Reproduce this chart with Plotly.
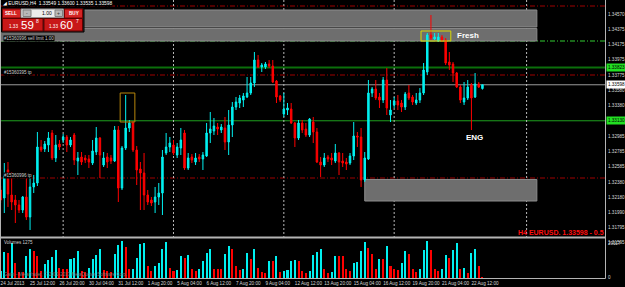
import plotly.graph_objects as go

# ---------------- data (EURUSD H4) ----------------
bars = list(range(-1, 131))
opens = [1.32230, 1.32126, 1.32490, 1.32165, 1.32100, 1.32035, 1.31970, 1.32139, 1.31879, 1.32269,
         1.32321, 1.32789, 1.32763, 1.32815, 1.32971, 1.32646, 1.32828, 1.32880, 1.32919, 1.32815,
         1.32945, 1.32607, 1.32659, 1.32646, 1.32633, 1.32581, 1.32724, 1.32906, 1.32555, 1.32659,
         1.32646, 1.32607, 1.33010, 1.32256, 1.32776, 1.33036, 1.33101, 1.32750, 1.32503, 1.32451,
         1.32165, 1.32100, 1.32074, 1.32139, 1.32191, 1.32711, 1.32789, 1.32815, 1.32685, 1.32776,
         1.32971, 1.32516, 1.32659, 1.32594, 1.32659, 1.32633, 1.32672, 1.32971, 1.32997, 1.33049,
         1.33010, 1.33036, 1.32854, 1.33075, 1.33309, 1.33361, 1.33400, 1.33439, 1.33491, 1.33621,
         1.33920, 1.33829, 1.33829, 1.33868, 1.33842, 1.33647, 1.33452, 1.33218, 1.33270, 1.33283,
         1.33101, 1.32906, 1.33101, 1.33023, 1.32945, 1.33114, 1.32984, 1.32594, 1.32555, 1.32659,
         1.32646, 1.32607, 1.32711, 1.32607, 1.32594, 1.32581, 1.32672, 1.32932, 1.32919, 1.32360,
         1.32633, 1.33491, 1.33543, 1.33439, 1.33400, 1.33660, 1.33205, 1.33335, 1.33387, 1.33361,
         1.33309, 1.33491, 1.33439, 1.33361, 1.33400, 1.33491, 1.33764, 1.34245, 1.34193, 1.34167,
         1.34219, 1.34180, 1.33894, 1.33868, 1.33751, 1.33569, 1.33374, 1.33426, 1.33595, 1.33439,
         1.33608, 1.33549]
highs = [1.32282, 1.32581, 1.32594, 1.32464, 1.32165, 1.32100, 1.32152, 1.32386, 1.32399, 1.32425,
         1.32984, 1.32880, 1.32867, 1.32984, 1.33010, 1.32945, 1.32880, 1.32958, 1.32945, 1.32919,
         1.32971, 1.32724, 1.32724, 1.32685, 1.32685, 1.32880, 1.33049, 1.32919, 1.32724, 1.32711,
         1.32685, 1.33062, 1.33062, 1.32802, 1.33465, 1.33140, 1.33127, 1.32802, 1.32594, 1.32711,
         1.32230, 1.32139, 1.32269, 1.32321, 1.32750, 1.32971, 1.32919, 1.32880, 1.32841, 1.33036,
         1.33010, 1.32711, 1.32698, 1.32711, 1.32698, 1.32724, 1.33101, 1.33244, 1.33166, 1.33101,
         1.33088, 1.33179, 1.33270, 1.33374, 1.33439, 1.33465, 1.33491, 1.33699, 1.33699, 1.34024,
         1.33985, 1.33881, 1.33894, 1.33920, 1.33920, 1.33660, 1.33465, 1.33491, 1.33361, 1.33361,
         1.33114, 1.33140, 1.33140, 1.33101, 1.33166, 1.33179, 1.33036, 1.32659, 1.32711, 1.32685,
         1.32711, 1.32828, 1.32724, 1.32711, 1.32646, 1.32711, 1.33114, 1.32984, 1.33036, 1.32724,
         1.33660, 1.33569, 1.33660, 1.33491, 1.33699, 1.33816, 1.33400, 1.33439, 1.33465, 1.33400,
         1.33504, 1.33595, 1.33465, 1.33491, 1.33556, 1.33881, 1.34271, 1.34505, 1.34271, 1.34271,
         1.34245, 1.34206, 1.34024, 1.33894, 1.33764, 1.33595, 1.33634, 1.33660, 1.33621, 1.33751,
         1.33634, 1.33600]
lows = [1.32061, 1.31931, 1.32009, 1.31970, 1.31801, 1.31931, 1.31931, 1.31840, 1.31710, 1.32191,
        1.32282, 1.32724, 1.32724, 1.32724, 1.32620, 1.32594, 1.32750, 1.32841, 1.32724, 1.32789,
        1.32555, 1.32425, 1.32555, 1.32581, 1.32516, 1.32555, 1.32685, 1.32386, 1.32529, 1.32516,
        1.32568, 1.32594, 1.32074, 1.32230, 1.32750, 1.32984, 1.32724, 1.32295, 1.31970, 1.31970,
        1.32035, 1.32022, 1.31931, 1.32035, 1.31905, 1.32685, 1.32724, 1.32685, 1.32646, 1.32685,
        1.32490, 1.32490, 1.32581, 1.32555, 1.32594, 1.32490, 1.32659, 1.32841, 1.32945, 1.32945,
        1.32971, 1.32750, 1.32685, 1.32919, 1.33270, 1.33296, 1.33309, 1.33426, 1.33465, 1.33569,
        1.33816, 1.33764, 1.33803, 1.33816, 1.33621, 1.33361, 1.33374, 1.33179, 1.33205, 1.33088,
        1.32789, 1.32880, 1.32971, 1.32919, 1.32919, 1.32841, 1.32581, 1.32399, 1.32529, 1.32594,
        1.32555, 1.32581, 1.32425, 1.32529, 1.32490, 1.32555, 1.32620, 1.32789, 1.32269, 1.32334,
        1.32620, 1.33439, 1.33400, 1.33296, 1.33361, 1.33205, 1.33114, 1.33296, 1.33270, 1.33244,
        1.33270, 1.33400, 1.33335, 1.33335, 1.33361, 1.33465, 1.33725, 1.34180, 1.34180, 1.34154,
        1.34154, 1.33855, 1.33790, 1.33634, 1.33556, 1.33361, 1.33335, 1.33400, 1.33010, 1.33426,
        1.33556, 1.33535]
closes = [1.32100, 1.32412, 1.32178, 1.32074, 1.32035, 1.31970, 1.32139, 1.31879, 1.32269, 1.32321,
          1.32789, 1.32750, 1.32828, 1.32906, 1.32646, 1.32815, 1.32789, 1.32919, 1.32815, 1.32880,
          1.32620, 1.32646, 1.32594, 1.32620, 1.32594, 1.32737, 1.32906, 1.32685, 1.32646, 1.32594,
          1.32607, 1.33010, 1.32256, 1.32776, 1.33036, 1.33101, 1.32750, 1.32490, 1.32451, 1.32165,
          1.32074, 1.32061, 1.32139, 1.32191, 1.32659, 1.32789, 1.32841, 1.32711, 1.32789, 1.32880,
          1.32516, 1.32646, 1.32620, 1.32646, 1.32633, 1.32685, 1.32971, 1.33023, 1.33062, 1.33023,
          1.33049, 1.32854, 1.33075, 1.33309, 1.33374, 1.33426, 1.33452, 1.33491, 1.33621, 1.33920,
          1.33829, 1.33855, 1.33868, 1.33842, 1.33634, 1.33439, 1.33400, 1.33283, 1.33296, 1.33101,
          1.32906, 1.33101, 1.33010, 1.32945, 1.33153, 1.32984, 1.32594, 1.32555, 1.32646, 1.32633,
          1.32620, 1.32711, 1.32594, 1.32581, 1.32568, 1.32672, 1.32932, 1.32919, 1.32360, 1.32646,
          1.33491, 1.33543, 1.33426, 1.33400, 1.33660, 1.33296, 1.33270, 1.33387, 1.33335, 1.33309,
          1.33478, 1.33426, 1.33374, 1.33400, 1.33491, 1.33790, 1.34245, 1.34206, 1.34219, 1.34219,
          1.34180, 1.33881, 1.33855, 1.33751, 1.33569, 1.33400, 1.33426, 1.33569, 1.33426, 1.33608,
          1.33569, 1.33598]
volumes = [6000,
           22256, 21114, 29675, 13126, 5136, 5136, 18832, 25110, 23112, 18832,
           5992, 11700, 15408, 18262, 23968, 8845, 7420, 7420, 16550, 17406,
           23112, 5992, 5136, 8845, 16550, 19402, 24538, 6848, 5992, 5136,
           20258, 27963, 31672, 26822, 7420, 7990, 17406, 28820, 29675, 10272,
           5992, 10272, 13126, 25110, 30816, 8276, 5992, 6848, 18832, 17406,
           19688, 7990, 5992, 7420, 14552, 21114, 24538, 7420, 7420, 7420,
           20258, 27392, 24538, 10272, 6848, 7990, 21686, 15978, 24538, 8276,
           5136, 4564, 14552, 14552, 18832, 5136, 5992, 6848, 14552, 15408,
           14552, 5992, 4564, 5992, 19402, 22256, 24538, 7990, 4564, 5136,
           18832, 18832, 18832, 7420, 5992, 13126, 13696, 23112, 30816, 25966,
           20258, 7420, 16550, 16550, 27392, 10272, 7420, 6848, 13126, 23112,
           20258, 7420, 5136, 7990, 23968, 31672, 23968, 7420, 5992, 7990,
           19688, 17406, 23968, 29675, 7420, 8845, 4564, 21686, 24538, 10272,
           285]

time_tick_bars = [-1, 7, 15, 23, 31, 39, 47, 55, 63, 71, 79, 87, 95, 103, 111, 119, 127]
time_tick_text = ["24 Jul 2013", "25 Jul 12:00", "26 Jul 20:00", "30 Jul 04:00", "31 Jul 12:00",
                  "1 Aug 20:00", "5 Aug 04:00", "6 Aug 12:00", "7 Aug 20:00", "9 Aug 04:00",
                  "12 Aug 12:00", "13 Aug 20:00", "15 Aug 04:00", "16 Aug 12:00", "19 Aug 20:00",
                  "21 Aug 04:00", "22 Aug 12:00"]
price_ticks = [1.34570, 1.34375, 1.34175, 1.33975, 1.33775, 1.33580, 1.33380, 1.33180,
               1.32985, 1.32785, 1.32585, 1.32380, 1.32180, 1.31990, 1.31795, 1.31595]
price_tick_text = ["%.5f" % v for v in price_ticks]
volume_ticks = [0, 29117]
volume_tick_text = ["0", "29117"]

week_separators = [16, 46, 76, 106, 142]
sl_level = 1.34622
sell_limit = 1.34167
resistance = 1.33823
tp_upper = 1.33725
bid = 1.33598
support = 1.33130
tp_lower = 1.32386
supply_zone = [(1.34570, 1.34349), (1.34330, 1.34167)]
demand_zone = (1.32367, 1.32087)
zone_end_bar = 144.8
demand_start_bar = 98
spike_box = (31.5, 35.5, 1.33491, 1.33114)
fresh_box = (113.3, 121.4, 1.34297, 1.34167)

# ---------------- geometry / style ----------------
W, H = 625, 287
ML, MR, MT, MB = 0, 20, 0, 9
PW, PH = W - ML - MR, H - MT - MB
def xp(px): return (px - ML) / PW
def yp(py): return (PH + MT - py) / PH

X0 = -1.169
X1 = X0 + PW / 3.678
FONT = "Liberation Sans, Arial, sans-serif"
CYAN = "#00f0f0"
RED = "#ff0000"
TXT = "#d8d8d8"

vol_colors = [CYAN] + [CYAN if volumes[k] > volumes[k - 1] else RED for k in range(1, len(volumes))]

fig = go.Figure()
fig.add_trace(go.Candlestick(
    x=bars, open=opens, high=highs, low=lows, close=closes,
    xaxis="x", yaxis="y", whiskerwidth=0, showlegend=False, hoverinfo="skip",
    increasing=dict(line=dict(color=CYAN, width=1), fillcolor=CYAN),
    decreasing=dict(line=dict(color=RED, width=1), fillcolor=RED)))
fig.add_trace(go.Bar(
    x=bars, y=volumes, xaxis="x", yaxis="y2", width=0.55, showlegend=False,
    marker=dict(color=vol_colors, line=dict(width=0))))

shapes = []
def hline(level, color, dash="solid", width=1):
    shapes.append(dict(type="line", xref="paper", yref="y", x0=0, x1=1, y0=level, y1=level,
                       line=dict(color=color, width=width, dash=dash), layer="below"))

# zones
for top, bot in supply_zone:
    shapes.append(dict(type="rect", xref="x", yref="y", x0=X0 - 2, x1=zone_end_bar, y0=bot, y1=top,
                       fillcolor="#6e6e6e", line=dict(color="#8c8c8c", width=1), layer="below"))
shapes.append(dict(type="rect", xref="x", yref="y", x0=demand_start_bar, x1=zone_end_bar,
                   y0=demand_zone[1], y1=demand_zone[0],
                   fillcolor="#6e6e6e", line=dict(color="#8c8c8c", width=1), layer="below"))
DD = "5px,2px,1px,2px"
hline(sl_level, "#a00000", DD)
hline(sell_limit, "#33cc33", DD)
hline(resistance, "#0b6e0b", "solid", 2)
hline(tp_upper, "#a00000", DD)
hline(bid, "#9a9a9a", "solid", 1)
hline(support, "#1fa01f", "solid", 1)
hline(tp_lower, "#a00000", DD)
for s in week_separators:
    shapes.append(dict(type="line", xref="x", yref="paper", x0=s, x1=s, y0=0, y1=1,
                       line=dict(color="#b8b8b8", width=1, dash="2px,2px"), layer="below"))
# boxes
shapes.append(dict(type="rect", xref="x", yref="y", x0=spike_box[0], x1=spike_box[1],
                   y0=spike_box[3], y1=spike_box[2], line=dict(color="#b8860b", width=1)))
shapes.append(dict(type="rect", xref="x", yref="y", x0=fresh_box[0], x1=fresh_box[1],
                   y0=fresh_box[3], y1=fresh_box[2], line=dict(color="#d8d800", width=1)))
# frame lines
def pline(x0, y0, x1, y1, color="#b4b4b4", width=1):
    shapes.append(dict(type="line", xref="paper", yref="paper", x0=xp(x0), y0=yp(y0),
                       x1=xp(x1), y1=yp(y1), line=dict(color=color, width=width)))
pline(605.5, 0, 605.5, 278.5)
pline(0.5, 0, 0.5, 278)
pline(0, 237.5, 605.5, 237.5, width=2)
pline(0, 278.5, 605.5, 278.5)

# one-click trading panel
def prect(x0, y0, x1, y1, fill, line="#101010", lw=1):
    shapes.append(dict(type="rect", xref="paper", yref="paper", x0=xp(x0), y0=yp(y1),
                       x1=xp(x1), y1=yp(y0), fillcolor=fill, line=dict(color=line, width=lw)))
prect(1.5, 8, 84, 32, "#2a2a2a", "#000000")
prect(2.5, 9, 20.5, 18, "#d42525", "#7a0000")
prect(21, 9, 63.5, 17.5, "#ececec", "#909090")
prect(23, 10, 31, 16.5, "#b8b8b8", "#808080")
prect(55, 10, 62.5, 16.5, "#b8b8b8", "#808080")
prect(64.5, 9, 82.5, 18, "#d42525", "#7a0000")
prect(2.5, 18.5, 43, 31, "#c81818", "#600000")
prect(44, 18.5, 82.5, 31, "#c81818", "#600000")

annotations = []
def ptext(px, py, text, size=4.6, color=TXT, xanchor="left", yanchor="middle", bold=False, bg=None):
    a = dict(xref="paper", yref="paper", x=xp(px), y=yp(py), text=("<b>%s</b>" % text) if bold else text,
             showarrow=False, xanchor=xanchor, yanchor=yanchor, borderpad=0,
             font=dict(family=FONT, size=size, color=color))
    if bg:
        a["bgcolor"] = bg
    annotations.append(a)

ptext(1.5, 3.5, "◢ EURUSD,H4  1.33549 1.33600 1.33535 1.33598", size=4.8, color="#ffffff", bg="#000000")
ptext(11.5, 13.6, "SELL", size=4.6, color="#ffffff", xanchor="center", bold=True)
ptext(73.5, 13.6, "BUY", size=4.6, color="#ffffff", xanchor="center", bold=True)
ptext(27, 13.2, "-", size=5, color="#333333", xanchor="center")
ptext(58.7, 13.2, "+", size=5, color="#333333", xanchor="center")
ptext(53, 13.4, "1.00", size=5, color="#000000", xanchor="right")
ptext(8, 26.5, "1.33", size=4.6, color="#ffffff")
ptext(19.5, 24.8, "59", size=11.5, color="#ffffff")
ptext(34.5, 21, "8", size=5, color="#ffffff")
ptext(48, 26.5, "1.33", size=4.6, color="#ffffff")
ptext(59, 24.8, "60", size=11.5, color="#ffffff")
ptext(74.5, 21, "7", size=5, color="#ffffff")

ptext(2.5, 38.3, "#15360996 sell limit 1.00", size=4.5, color="#d0d0d0", bg="#000000")
ptext(2.5, 72.7, "#15360395 tp", size=4.5, color="#d0d0d0", bg="#000000")
ptext(2.5, 175.7, "#15360996 tp", size=4.5, color="#d0d0d0", bg="#000000")
ptext(456, 35.5, "Fresh", size=8, color="#ffffff", bold=True)
ptext(465, 137, "ENG", size=8, color="#ffffff", bold=True)
ptext(604.5, 232.5, "H4 EURUSD. 1.33598 - 0.5", size=7.0, color="#ff1010", xanchor="right", bold=True)
ptext(3, 242.5, "Volumes 1275", size=4.5, color="#d0d0d0")
ptext(3, 274, "Gaint - MetaTrader, © 2001-2013 MetaQuotes Software Corp.", size=4.5, color="#7a7a7a")

# price boxes on the right axis
def axis_box(level, text, bg, fg="#000000"):
    annotations.append(dict(xref="paper", yref="y", x=xp(606), y=level, text=text, showarrow=False,
                            xanchor="left", yanchor="middle", bgcolor=bg, borderpad=1, width=17,
                            font=dict(family=FONT, size=4.6, color=fg)))
axis_box(resistance, "1.33823", "#22e022")
axis_box(bid, "1.33598", "#ffffff")
axis_box(support, "1.33130", "#22e022")

axis_common = dict(showgrid=False, zeroline=False, showline=False, ticks="", automargin=False,
                   tickmode="array", tickfont=dict(family=FONT, size=4.6, color=TXT))
fig.update_layout(
    template="none",
    width=W, height=H, margin=dict(l=ML, r=MR, t=MT, b=MB, pad=0, autoexpand=False),
    paper_bgcolor="#000000", plot_bgcolor="#000000", showlegend=False,
    boxgap=0.42, bargap=0,
    xaxis=dict(domain=[0, 1], range=[X0, X1], anchor="y2", rangeslider=dict(visible=False),
               tickvals=time_tick_bars, ticktext=time_tick_text, tickangle=0,
               ticklabelposition="outside right", ticklabelstandoff=1, **axis_common),
    yaxis=dict(domain=[yp(240), 1], range=[1.3158, 1.3470], side="right", anchor="x",
               tickvals=price_ticks, ticktext=price_tick_text,
               ticklabelshift=4, ticklabelstandoff=2, **axis_common),
    yaxis2=dict(domain=[0, yp(239)], range=[0, 33400], side="right", anchor="x",
                tickvals=volume_ticks, ticktext=volume_tick_text,
                ticklabelshift=-1, ticklabelstandoff=2, **axis_common),
    shapes=shapes, annotations=annotations,
)
fig.write_html("out.html")
